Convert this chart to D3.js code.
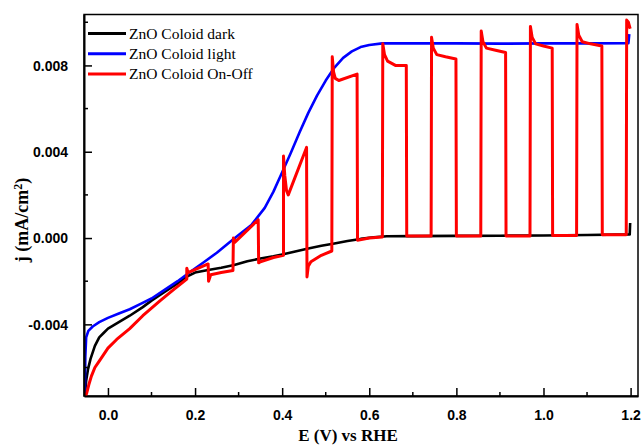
<!DOCTYPE html>
<html><head><meta charset="utf-8">
<script src="https://cdn.jsdelivr.net/npm/d3@7"></script>
<style>html,body{margin:0;padding:0;background:#fff;}</style>
</head><body>
<svg id="chart" width="643" height="447"></svg>
<script>
const xTicks = [0.0, 0.2, 0.4, 0.6, 0.8, 1.0, 1.2];
const yTicks = [-0.004, 0.000, 0.004, 0.008];
const seriesNames = ["ZnO Coloid dark", "ZnO Coloid light", "ZnO Coloid On-Off"];
const seriesColors = ["#000000", "#0000ff", "#ff0000"];

const darkE = [-0.053,-0.050,-0.046,-0.040,-0.030,-0.020,-0.010,0.000,0.025,0.050,0.080,0.100,0.130,0.160,0.180,0.200,0.230,0.260,0.290,0.320,0.350,0.380,0.400,0.430,0.460,0.490,0.520,0.550,0.580,0.610,0.640,0.700,0.800,0.900,1.000,1.100,1.198,1.199];
const darkJ = [-0.0073,-0.0066,-0.0061,-0.0056,-0.0050,-0.0046,-0.0044,-0.0042,-0.0039,-0.0036,-0.0032,-0.0029,-0.0025,-0.0021,-0.0018,-0.0016,-0.00148,-0.00138,-0.00125,-0.00108,-0.00095,-0.00085,-0.00076,-0.00062,-0.00048,-0.00036,-0.00025,-0.00014,-0.00004,0.00004,0.00008,0.00009,0.00010,0.00011,0.00012,0.00014,0.00017,0.00070];

const lightE = [-0.053,-0.052,-0.050,-0.045,-0.035,-0.020,0.000,0.025,0.050,0.075,0.100,0.130,0.160,0.190,0.220,0.250,0.280,0.300,0.330,0.360,0.380,0.400,0.420,0.440,0.460,0.480,0.500,0.520,0.540,0.560,0.580,0.600,0.630,0.660,0.700,0.800,0.900,1.000,1.100,1.195,1.197];
const lightJ = [-0.0073,-0.0055,-0.0046,-0.0043,-0.0041,-0.0039,-0.0037,-0.0035,-0.0033,-0.00305,-0.0028,-0.0024,-0.0020,-0.00155,-0.00112,-0.00068,-0.00018,0.00014,0.00062,0.00140,0.00215,0.00305,0.00395,0.00490,0.00580,0.00660,0.00730,0.00790,0.00835,0.00865,0.00885,0.00895,0.00902,0.00903,0.00902,0.00902,0.00901,0.00902,0.00902,0.00903,0.00945];

const onoffE = [-0.053,-0.049,-0.044,-0.038,-0.030,-0.020,-0.010,0.000,0.020,0.050,0.080,0.120,0.150,0.181,
 0.181,0.184,0.230, 0.231,0.236,0.260,0.287,
 0.288,0.291,0.345, 0.346,0.350,0.380,0.403,
 0.403,0.406,0.410,0.414,0.456, 0.457,0.460,0.466,0.490,0.514,
 0.515,0.518,0.522,0.530,0.572, 0.573,0.600,0.630,
 0.631,0.635,0.642,0.660,0.685, 0.686,0.742,
 0.743,0.747,0.755,0.775,0.799, 0.800,0.856,
 0.857,0.861,0.869,0.890,0.913, 0.914,0.969,
 0.970,0.974,0.982,1.000,1.020, 1.021,1.076,
 1.077,1.081,1.089,1.108,1.134, 1.135,1.190,
 1.191,1.195,1.199];
const onoffJ = [-0.0074,-0.0072,-0.0068,-0.0064,-0.0060,-0.0057,-0.0054,-0.0051,-0.0047,-0.0042,-0.0036,-0.0029,-0.0024,-0.0019,
 -0.0014,-0.0016,-0.00120, -0.0020,-0.0017,-0.0016,-0.0015,
 0.0000,-0.0002,0.00085, -0.00115,-0.0011,-0.0009,-0.0008,
 0.0038,0.0029,0.0022,0.0020,0.0042, -0.0018,-0.0013,-0.0011,-0.0008,-0.0006,
 0.0084,0.0077,0.0074,0.0073,0.0076, -0.0001,0.0000,0.00005,
 0.0090,0.0085,0.0082,0.0080,0.0080, 0.0001,0.0001,
 0.0093,0.0088,0.0085,0.0084,0.0083, 0.0001,0.0001,
 0.0096,0.0091,0.0088,0.0087,0.0086, 0.0001,0.0001,
 0.0098,0.0093,0.0090,0.0089,0.0088, 0.00012,0.00012,
 0.0099,0.0094,0.0091,0.0090,0.0089, 0.00015,0.00015,
 0.0101,0.0100,0.0097];

const svg = d3.select("#chart");
const x = d3.scaleLinear().domain([-0.055, 1.217]).range([84, 638]);
const y = d3.scaleLinear().domain([-0.00732, 0.01036]).range([396, 14.5]);

// frame
svg.append("rect").attr("x", 84).attr("y", 14.5).attr("width", 554).attr("height", 381.5)
  .attr("fill", "none").attr("stroke", "#000").attr("stroke-width", 1.5);

const toPts = (E, J) => E.map((e, i) => [e, J[i]]);
const line = d3.line().x(d => x(d[0])).y(d => y(d[1]));
svg.append("clipPath").attr("id", "clip").append("rect")
  .attr("x", 84).attr("y", 14.5).attr("width", 554).attr("height", 381.5);
const plot = svg.append("g").attr("clip-path", "url(#clip)");
const data = [toPts(darkE, darkJ), toPts(lightE, lightJ), toPts(onoffE, onoffJ)];
data.forEach((d, i) => {
  plot.append("path").datum(d).attr("d", line).attr("fill", "none")
    .attr("stroke", seriesColors[i]).attr("stroke-width", i === 2 ? 3 : 2.6)
    .attr("stroke-linejoin", "round");
});

// axes
const xAxis = d3.axisBottom(x).tickValues(xTicks).tickSizeInner(-8).tickSizeOuter(0).tickPadding(14)
  .tickFormat(d => d.toFixed(1));
const gx = svg.append("g").attr("transform", "translate(0,396)").call(xAxis);
const xMinor = [0.1, 0.3, 0.5, 0.7, 0.9, 1.1];
gx.selectAll(".minor").data(xMinor).enter().append("line").attr("class", "minor")
  .attr("x1", d => x(d)).attr("x2", d => x(d)).attr("y1", 0).attr("y2", -4).attr("stroke", "#000").attr("stroke-width", 1.5);

const yAxis = d3.axisLeft(y).tickValues(yTicks).tickSizeInner(-8).tickSizeOuter(0).tickPadding(16)
  .tickFormat(d => d.toFixed(3));
const gy = svg.append("g").attr("transform", "translate(84,0)").call(yAxis);
const yMinor = [-0.006, -0.002, 0.002, 0.006, 0.010];
gy.selectAll(".minor").data(yMinor).enter().append("line").attr("class", "minor")
  .attr("x1", 0).attr("x2", 4).attr("y1", d => y(d)).attr("y2", d => y(d)).attr("stroke", "#000").attr("stroke-width", 1.5);

[gx, gy].forEach(g => {
  g.select(".domain").attr("stroke-width", 2);
  g.selectAll(".tick line").attr("stroke-width", 1.5);
  g.selectAll(".tick text").attr("font-family", "'Liberation Sans', Arial, sans-serif")
    .attr("font-weight", "bold").attr("font-size", 14).attr("fill", "#000");
});
gy.selectAll(".tick text").attr("dy", "0.35em");

// axis titles
svg.append("text").attr("x", 348).attr("y", 441).attr("text-anchor", "middle")
  .attr("font-family", "'Liberation Serif', 'Times New Roman', serif").attr("font-weight", "bold")
  .attr("font-size", 17).text("E (V) vs RHE");
const yl = svg.append("text").attr("transform", "translate(28,220) rotate(-90)").attr("text-anchor", "middle")
  .attr("font-family", "'Liberation Serif', 'Times New Roman', serif").attr("font-weight", "bold")
  .attr("font-size", 18);
yl.append("tspan").text("j (mA/cm");
yl.append("tspan").attr("dy", -6).attr("font-size", 12).text("2");
yl.append("tspan").attr("dy", 6).text(")");

// legend
const leg = svg.append("g");
seriesNames.forEach((n, i) => {
  const yy = 33.5 + i * 20.3;
  leg.append("line").attr("x1", 88).attr("x2", 126).attr("y1", yy).attr("y2", yy)
    .attr("stroke", seriesColors[i]).attr("stroke-width", 3);
  leg.append("text").attr("x", 129).attr("y", yy + 5).attr("font-family", "'Liberation Serif', 'Times New Roman', serif")
    .attr("font-size", 15.5).attr("fill", "#000").text(n);
});
</script>
</body></html>
